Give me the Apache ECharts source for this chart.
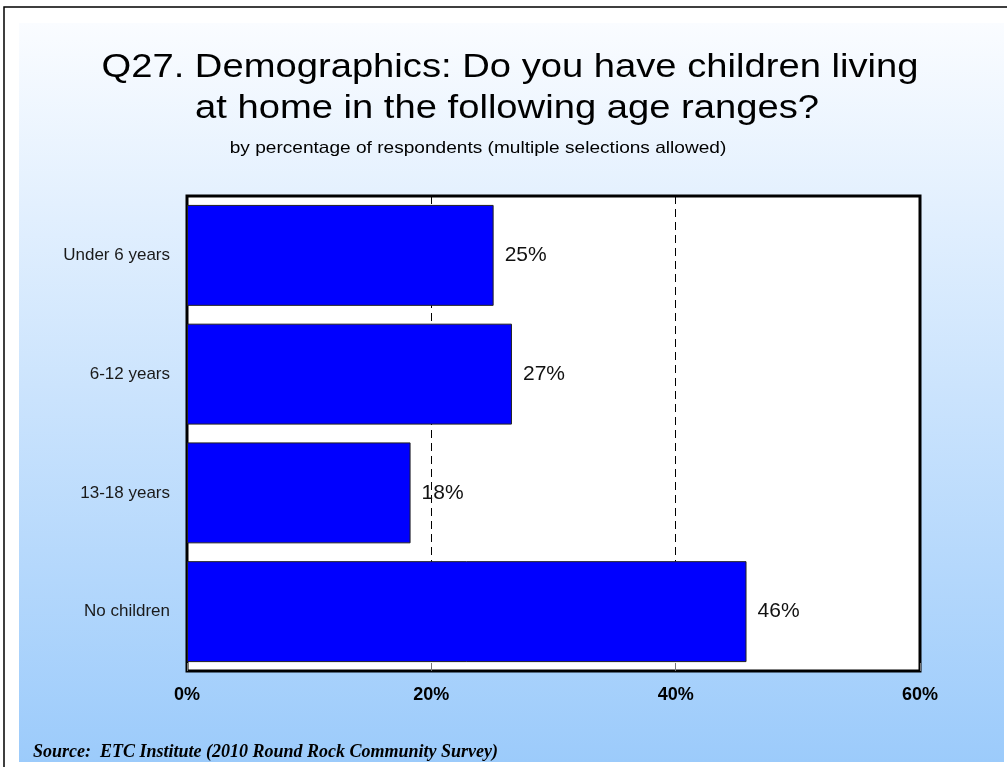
<!DOCTYPE html>
<html>
<head>
<meta charset="utf-8">
<script src="https://cdn.jsdelivr.net/npm/echarts@6/dist/echarts.min.js"></script>
<style>
  html, body { margin: 0; padding: 0; background: #fff; }
  #chart { width: 1007px; height: 767px; }
</style>
</head>
<body>
<div id="chart"></div>
<script>
// age ranges, top to bottom
const categories = ['Under 6 years', '6-12 years', '13-18 years', 'No children'];
// percentage of respondents
const values = [25.1, 26.6, 18.3, 45.8];
// x axis ticks
const xTicks = [0, 20, 40, 60];

const chart = echarts.init(document.getElementById('chart'));

const font = 'Arial, "Liberation Sans", sans-serif';
// the original slide text is a bit wider than plain Arial
const stretch = 1.157;

function headText(text, x, y, size) {
  return {
    type: 'text', x: x, y: y, scaleX: stretch, z: 10,
    style: {
      text: text,
      font: size + 'px ' + font,
      fill: '#000',
      align: 'center',
      verticalAlign: 'middle'
    }
  };
}

chart.setOption({
  backgroundColor: '#fff',
  animation: false,
  title: {
    text: 'Source:  ETC Institute (2010 Round Rock Community Survey)',
    left: 33, top: 743, padding: 0,
    textStyle: {
      fontFamily: '"Times New Roman", "Liberation Serif", serif',
      fontSize: 18, fontWeight: 'bold', fontStyle: 'italic', color: '#000'
    }
  },
  graphic: [
    {
      type: 'rect', z: -100, silent: true,
      shape: { x: 19, y: 23, width: 985, height: 739 },
      style: {
        fill: new echarts.graphic.LinearGradient(0, 0, 0, 1, [
          { offset: 0, color: '#fafcff' },
          { offset: 1, color: '#9ccbfb' }
        ])
      }
    },
    {
      type: 'rect', z: -99, silent: true,
      shape: { x: 4, y: 7, width: 1100, height: 900 },
      style: { fill: 'none', stroke: '#000', lineWidth: 1.5 }
    },
    headText('Q27. Demographics: Do you have children living', 510, 68, 33),
    headText('at home in the following age ranges?', 507, 109, 33),
    headText('by percentage of respondents (multiple selections allowed)', 478, 148, 16.5)
  ],
  grid: {
    left: 187, right: 87, top: 196, bottom: 96,
    show: true,
    backgroundColor: '#fff',
    borderColor: '#000',
    borderWidth: 3
  },
  xAxis: {
    type: 'value',
    min: xTicks[0],
    max: xTicks[xTicks.length - 1],
    interval: 20,
    axisLine: { show: false },
    axisTick: { show: true, inside: true, length: 8, lineStyle: { color: '#777' } },
    axisLabel: {
      formatter: '{value}%',
      margin: 15,
      fontFamily: font, fontSize: 18, fontWeight: 'bold', color: '#000'
    },
    splitLine: { show: true, lineStyle: { color: '#000', type: [8, 5], width: 1 } }
  },
  yAxis: {
    type: 'category',
    inverse: true,
    data: categories,
    axisLine: { show: false },
    axisTick: { show: false },
    axisLabel: { margin: 17, fontFamily: font, fontSize: 17, color: '#1a1a1a' },
    splitLine: { show: false }
  },
  series: [
    {
      type: 'bar',
      data: values,
      barWidth: '85%',
      itemStyle: { color: '#0000ff', borderColor: '#222', borderWidth: 1 },
      label: {
        show: true,
        position: 'right',
        distance: 11,
        fontFamily: font, fontSize: 21, color: '#111',
        formatter: (p) => Math.round(p.value) + '%'
      }
    }
  ]
});
</script>
</body>
</html>
